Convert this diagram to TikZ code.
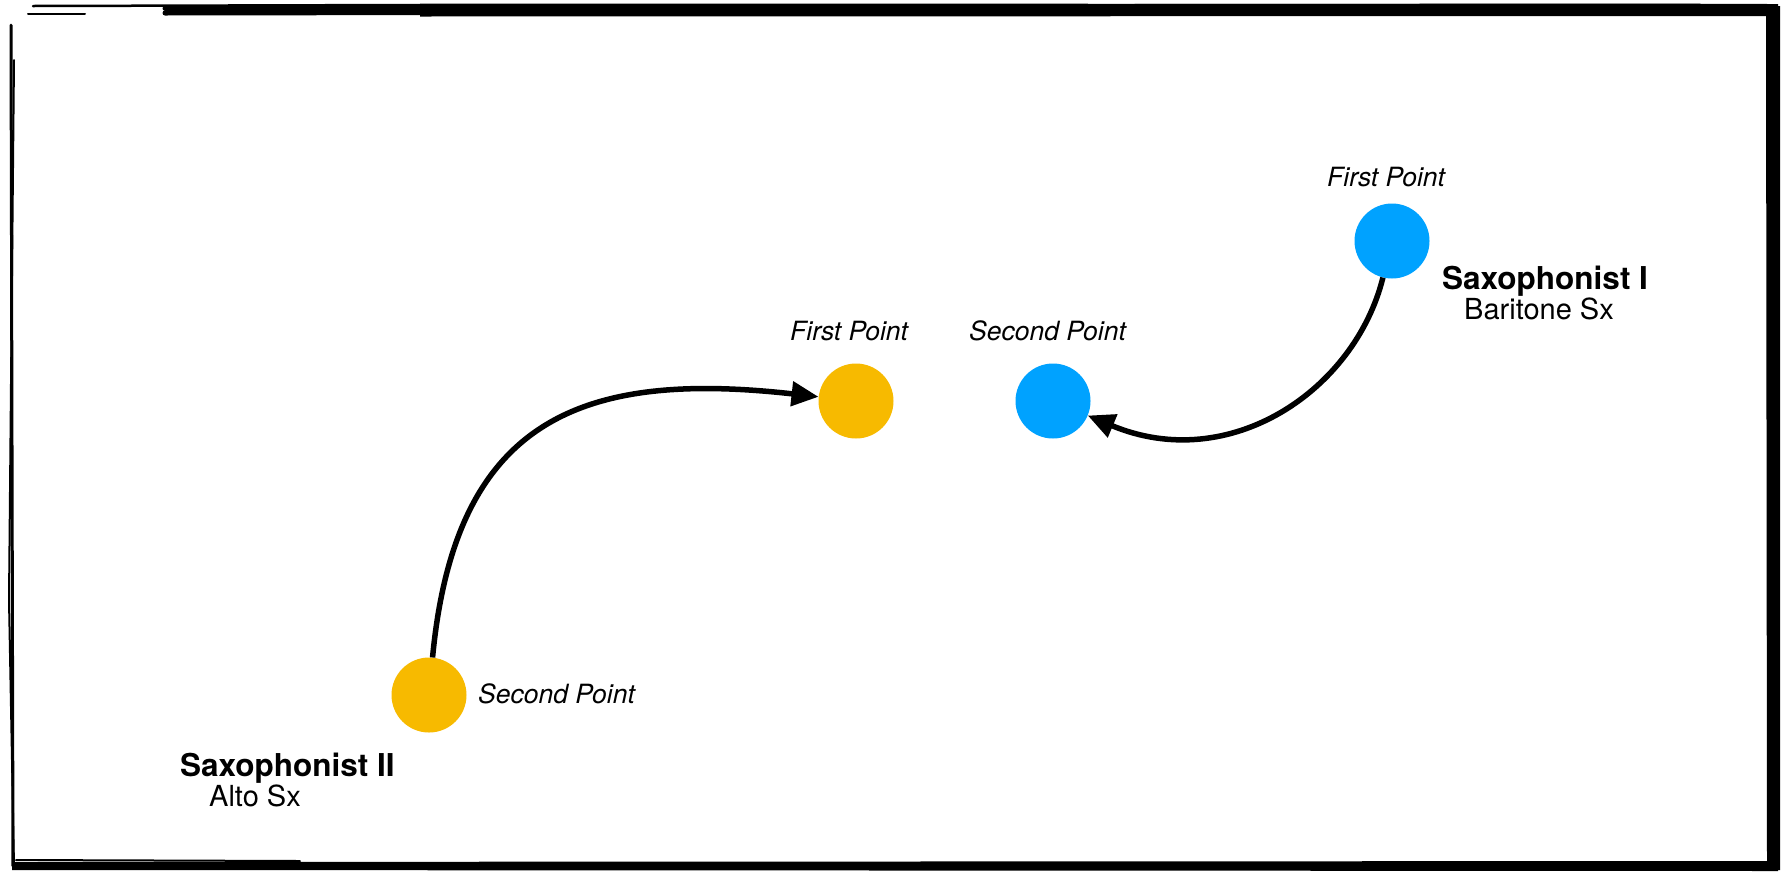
\documentclass[tikz,border=0pt]{standalone}
\usepackage{fontspec}
\setmainfont{TeX Gyre Heros}
\usetikzlibrary{arrows.meta}
\definecolor{altoyellow}{RGB}{247,186,0}
\definecolor{baritoneblue}{RGB}{0,162,255}
\tikzset{
  spot/.style={circle, minimum size=75pt, inner sep=0pt, draw=none},
  pointlabel/.style={anchor=base west, inner sep=0pt, font=\fontsize{26.5}{30}\selectfont\itshape},
  playername/.style={anchor=base west, inner sep=0pt, font=\fontsize{31.5}{36}\selectfont\bfseries},
  instrument/.style={anchor=base west, inner sep=0pt, font=\fontsize{29}{33}\selectfont},
  move/.style={line width=5.5pt, -{Triangle[length=27pt,width=24pt]}},
  sketch/.style={line cap=round, line join=round}
}
\begin{document}
\begin{tikzpicture}[x=1pt,y=-1pt]
\useasboundingbox (0,0) rectangle (1783,871);
\fill[white] (0,0) rectangle (1783,871);

% hand-drawn frame: several overlapping strokes per side
% top
\draw[sketch, line width=2.5pt] (33,6) -- (420,5);
\draw[sketch, line width=2pt] (28,14) -- (85,14);
\draw[sketch, line width=5pt] (165,8) -- (700,8);
\draw[sketch, line width=5pt] (165,13) -- (760,12);
\fill (420,3.5) -- (1778,4) -- (1778,16) -- (420,16.5) -- cycle;
\draw[sketch, line width=3pt] (560,6) -- (1700,5);
% right side
\fill (1766,6) -- (1780,6) -- (1780,870) -- (1767,870) -- cycle;
% bottom side
\fill (12,862) -- (1778,861) -- (1778,871) -- (12,870) -- cycle;
\draw[sketch, line width=2pt] (16,860) -- (300,861);
% left side
\draw[sketch, line width=3pt] (11,25) -- (13,866);
\draw[sketch, line width=2pt] (14,60) -- (9,600) -- (14,866);

% saxophonist positions
\node[spot, fill=altoyellow]   (altoFirst)  at (856,401) {};
\node[spot, fill=altoyellow]   (altoSecond) at (429,695) {};
\node[spot, fill=baritoneblue] (bariFirst)  at (1392,241) {};
\node[spot, fill=baritoneblue] (bariSecond) at (1053,401) {};

% point labels
\node[pointlabel] (altoFirstLbl)  at (790,340)  {First Point};
\node[pointlabel] (bariSecondLbl) at (969,340)  {Second Point};
\node[pointlabel] (bariFirstLbl)  at (1327,186) {First Point};
\node[pointlabel] (altoSecondLbl) at (478,703)  {Second Point};

% player names
\node[playername] (bariName)  at (1442,289) {Saxophonist I};
\node[instrument] (bariInstr) at (1464,319) {Baritone Sx};
\node[playername] (altoName)  at (180,776)  {Saxophonist II};
\node[instrument] (altoInstr) at (209,806)  {Alto Sx};

% movements
\draw[move] (altoSecond) .. controls (455,420) and (580,370) .. (altoFirst);
\draw[move] (bariFirst) .. controls (1355,390) and (1230,475) .. (bariSecond);
\end{tikzpicture}
\end{document}
